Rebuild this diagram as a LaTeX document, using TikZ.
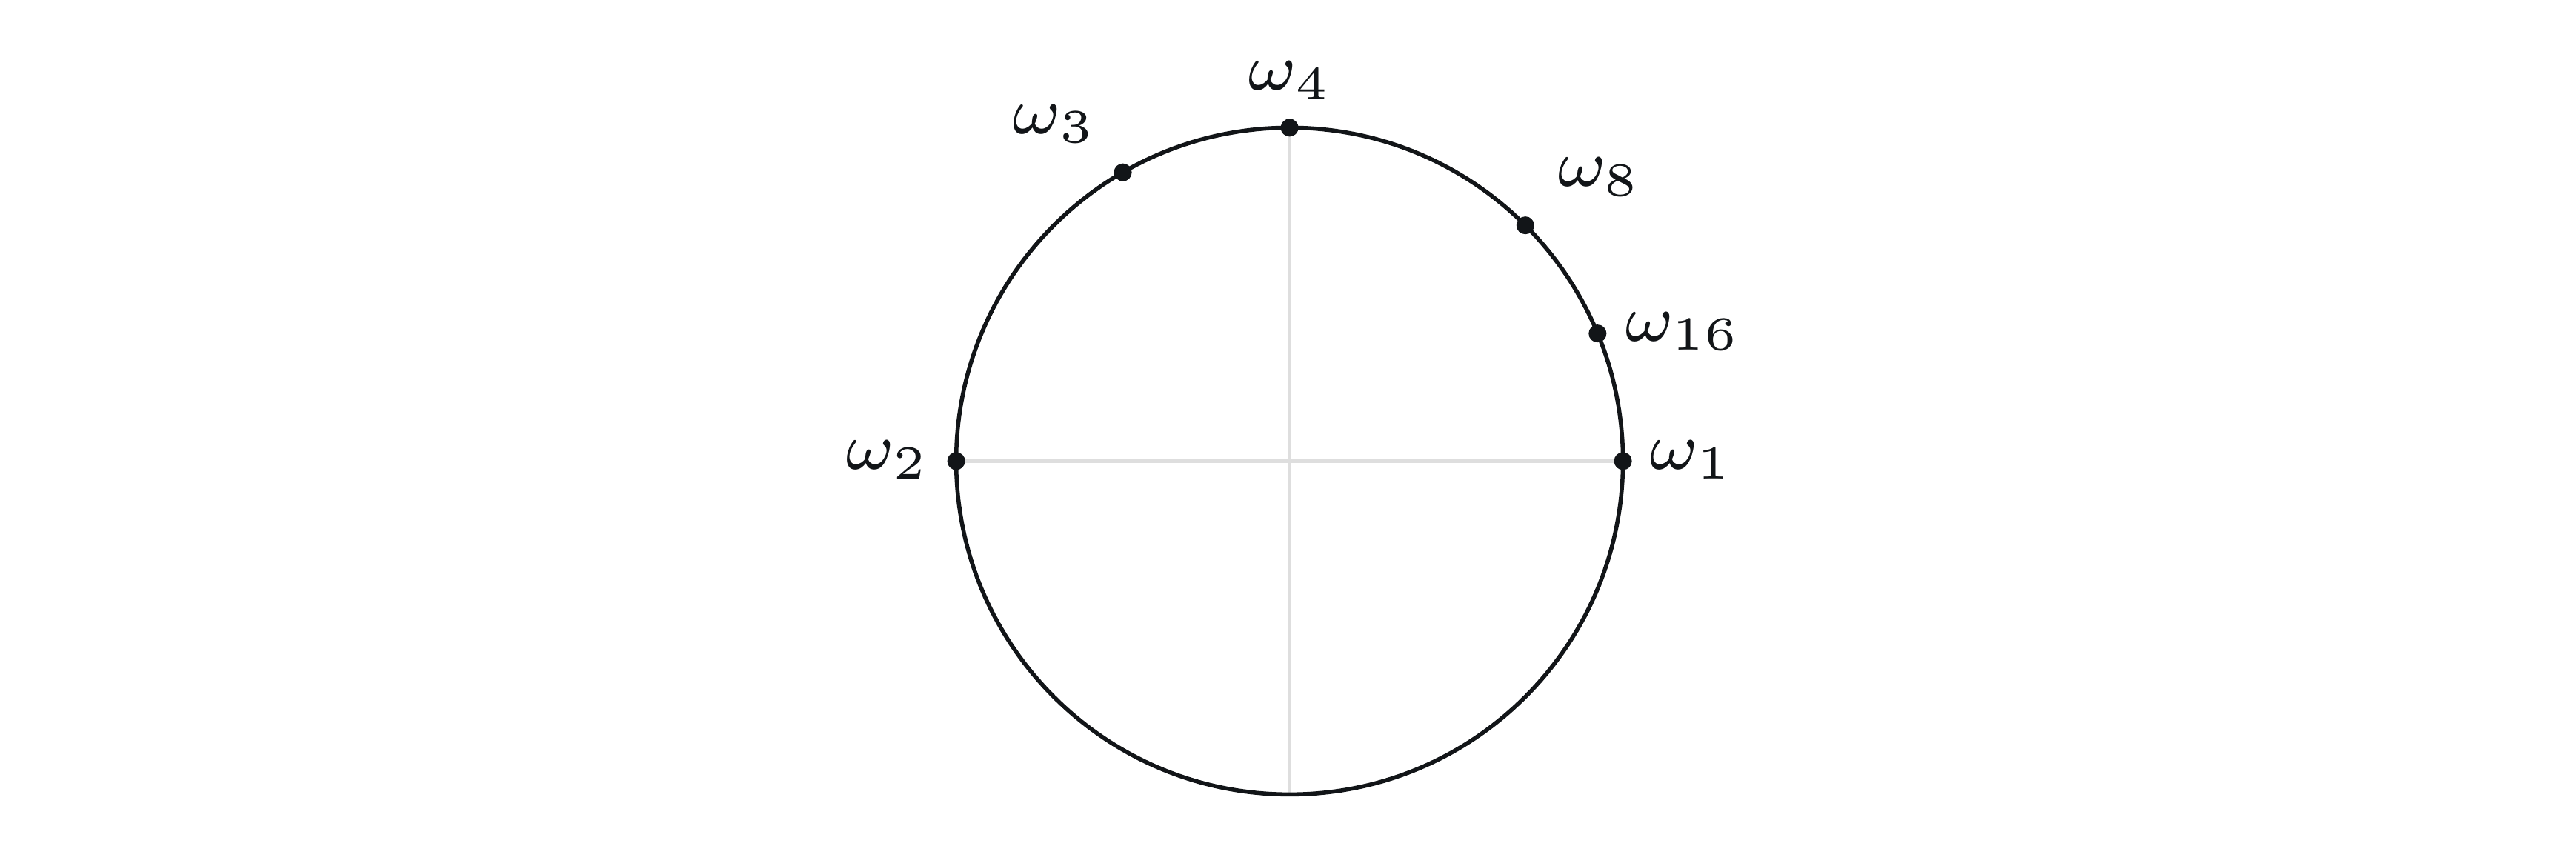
\documentclass[tikz,border=0pt]{standalone}
\definecolor{ink}{RGB}{18,21,24}
\definecolor{axisgray}{RGB}{222,222,222}
\newcommand{\rootlab}[1]{\scalebox{1.62}{$#1$}}
\tikzset{
  rootdot/.style={circle,fill=ink,inner sep=0pt,minimum size=0.107cm},
  rootlabel/.style={inner sep=0pt,anchor=base west,font=\fontsize{7}{8.5}\selectfont,text=ink},
  axisline/.style={draw=axisgray,line width=0.6pt},
  unitcircle/.style={draw=ink,line width=0.7pt}
}
\begin{document}
\begin{tikzpicture}
\useasboundingbox (-7.736,-2.425) rectangle (7.717,2.766);
\coordinate (O) at (0,0);
\coordinate (B) at (0,-2);
\draw[axisline] (180:2) -- (0:2);
\draw[axisline] (90:2) -- (B);
\draw[unitcircle] (O) circle[radius=2];
\node[rootdot] (w1) at (0:2) {};
\node[rootdot] (w2) at (180:2) {};
\node[rootdot] (w3) at (120:2) {};
\node[rootdot] (w4) at (90:2) {};
\node[rootdot] (w8) at (45:2) {};
\node[rootdot] (w16) at (22.5:2) {};
\node[rootlabel] (l1) at (2.148,-0.049) {\rootlab{\omega_1}};
\node[rootlabel] (l2) at (-2.674,-0.049) {\rootlab{\omega_2}};
\node[rootlabel] (l3) at (-1.674,1.966) {\rootlab{\omega_3}};
\node[rootlabel] (l4) at (-0.261,2.225) {\rootlab{\omega_4}};
\node[rootlabel] (l8) at (1.595,1.647) {\rootlab{\omega_8}};
\node[rootlabel] (l16) at (2.001,0.721) {\rootlab{\omega_{16}}};
\end{tikzpicture}
\end{document}
